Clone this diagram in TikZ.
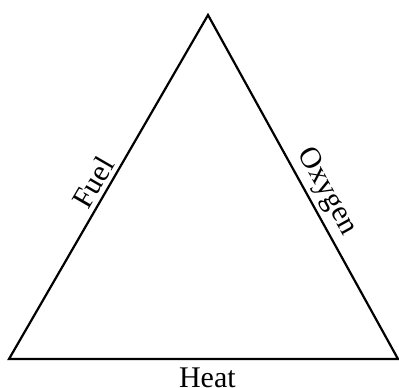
\documentclass[tikz,border=0pt]{standalone}
\usepackage{fontspec}
\setmainfont{Liberation Serif}
\usetikzlibrary{positioning}

\begin{document}
\begin{tikzpicture}[x=1pt, y=1pt, every node/.style={font=\fontsize{30}{32}\selectfont, inner sep=0pt}]
    \useasboundingbox (0,0) rectangle (399,388);
    \coordinate (apex) at (208,373);
    \coordinate (corner l) at (9,29);
    \coordinate (corner r) at (398,29);
    \draw[line width=2.2pt] (corner l) -- (apex) node[pos=0.49, sloped, above=4pt] (fuel) {Fuel}
        -- (corner r) node[pos=0.54, sloped, above=4pt] (oxygen) {Oxygen}
        -- cycle node[pos=0.49, below=7.5pt] (heat) {Heat};
\end{tikzpicture}
\end{document}
